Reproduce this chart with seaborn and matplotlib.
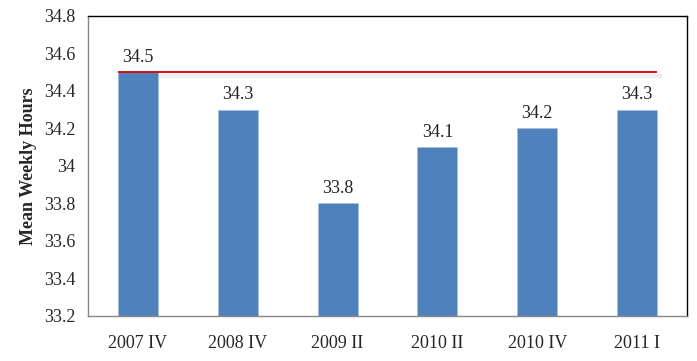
import matplotlib
matplotlib.use("Agg")
import matplotlib.pyplot as plt
import seaborn as sns
import pandas as pd
from matplotlib.ticker import FuncFormatter

categories = ["2007 IV", "2008 IV", "2009 II", "2010 II", "2010 IV", "2011 I"]
values = [34.5, 34.3, 33.8, 34.1, 34.2, 34.3]
reference_level = 34.5
yticks = [33.2, 33.4, 33.6, 33.8, 34.0, 34.2, 34.4, 34.6, 34.8]

sns.set_style("white")
plt.rcParams["font.family"] = ["Liberation Serif", "DejaVu Serif"]

df = pd.DataFrame({"cat": categories, "val": values})

fig = plt.figure(figsize=(6.97, 3.61), dpi=100)
ax = fig.add_axes([0.1263, 0.1247, 0.8594, 0.831])

sns.barplot(data=df, x="cat", y="val", color="#4F81BD", width=0.4,
            saturation=1, ax=ax, edgecolor="#A7C0DE", linewidth=0.6, zorder=2)

ax.set_ylim(33.2, 34.8)
ax.set_xlim(-0.5, len(categories) - 0.5)
ax.set_yticks(yticks)
ax.yaxis.set_major_formatter(FuncFormatter(lambda v, p: f"{v:g}"))

# reference line with faint shadow
ax.plot([-0.2, len(categories) - 0.75], [reference_level - 0.018] * 2,
        color="#e6e6e6", lw=3, alpha=0.7, zorder=1, solid_capstyle="butt")
ax.plot([-0.2, len(categories) - 0.8], [reference_level] * 2,
        color="#CC0000", lw=1.3, zorder=3, solid_capstyle="butt")

for i, v in enumerate(values):
    ax.text(i, v + 0.035, f"{v:g}", ha="center", va="bottom", fontsize=13, color="#222222")

# x ticks at category boundaries
ax.set_xticks(range(len(categories)))
ax.set_xticklabels(categories, fontsize=13)
ax.set_xticks([i - 0.5 for i in range(len(categories) + 1)], minor=True)
ax.tick_params(axis="x", which="major", length=0, pad=14)
ax.tick_params(axis="x", which="minor", length=6, color="#888888", width=1, direction="out")
ax.tick_params(axis="y", length=6, color="#888888", width=1, direction="out", labelsize=13, pad=3)

ax.set_xlabel("")
ax.set_ylabel("Mean Weekly Hours", fontsize=13, fontweight="bold", labelpad=5)

for s in ["left", "bottom"]:
    ax.spines[s].set_color("#888888")
    ax.spines[s].set_linewidth(1)
for s in ["top", "right"]:
    ax.spines[s].set_color("black")
    ax.spines[s].set_linewidth(1)

fig.savefig("out.png", dpi=100)
